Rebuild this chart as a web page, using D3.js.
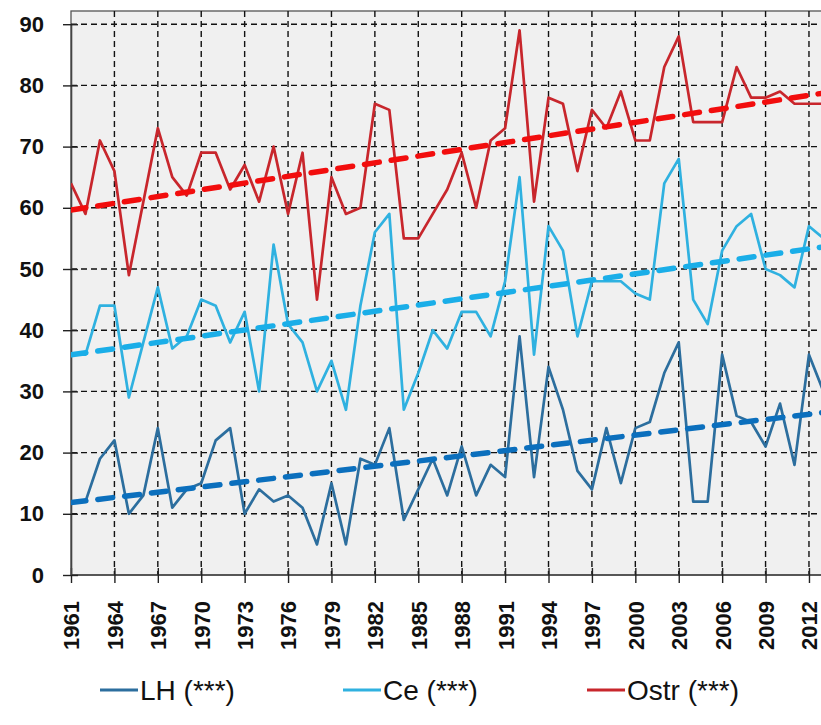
<!DOCTYPE html>
<html>
<head>
<meta charset="utf-8">
<script src="https://cdn.jsdelivr.net/npm/d3@7"></script>
<style>
  body { margin: 0; background: #fff; }
  .axis text { font-family: "Liberation Sans", Arial, sans-serif; font-weight: bold; font-size: 22px; fill: #111; }
  .legend text { font-family: "Liberation Sans", Arial, sans-serif; font-size: 28px; fill: #111; }
</style>
</head>
<body>
<div class="linechart"></div>
<script>
// data
const years = d3.range(1961, 2014);
const lh = [12, 12, 19, 22, 10, 13, 24, 11, 14, 15,
  22, 24, 10, 14, 12, 13, 11, 5, 15, 5,
  19, 18, 24, 9, 14, 19, 13, 21, 13, 18,
  16, 39, 16, 34, 27, 17, 14, 24, 15, 24,
  25, 33, 38, 12, 12, 36, 26, 25, 21, 28,
  18, 36, 30];
const ce = [36, 36, 44, 44, 29, 38, 47, 37, 39, 45,
  44, 38, 43, 30, 54, 41, 38, 30, 35, 27,
  44, 56, 59, 27, 33, 40, 37, 43, 43, 39,
  48, 65, 36, 57, 53, 39, 48, 48, 48, 46,
  45, 64, 68, 45, 41, 53, 57, 59, 50, 49,
  47, 57, 55];
const ostr = [64, 59, 71, 66, 49, 61, 73, 65, 62, 69,
  69, 63, 67, 61, 70, 59, 69, 45, 65, 59,
  60, 77, 76, 55, 55, 59, 63, 69, 60, 71,
  73, 89, 61, 78, 77, 66, 76, 73, 79, 71,
  71, 83, 88, 74, 74, 74, 83, 78, 78, 79,
  77, 77, 77];
const yTicks = [0, 10, 20, 30, 40, 50, 60, 70, 80, 90];
const xTicks = d3.range(1961, 2013, 3);
const seriesNames = ["LH (***)", "Ce (***)", "Ostr (***)"];

const series = [
  {name: seriesNames[0], values: lh, color: "#2c6e9e", trend: "#0b6fbd"},
  {name: seriesNames[1], values: ce, color: "#2fb1e0", trend: "#1aaee8"},
  {name: seriesNames[2], values: ostr, color: "#c8262c", trend: "#f20d0d"}
];

const W = 821, H = 725;
const plotLeft = 71, plotTop = 11, plotBottom = 575;

const x = d3.scaleLinear().domain([1961, 2013]).range([plotLeft, plotLeft + 52 * 14.47]);
const y = d3.scaleLinear().domain([0, 90]).range([plotBottom, 24.2]);

const svg = d3.select(".linechart").append("svg")
  .attr("width", W)
  .attr("height", H);

// plot area
svg.append("rect")
  .attr("x", plotLeft).attr("y", plotTop)
  .attr("width", W - plotLeft + 5).attr("height", plotBottom - plotTop)
  .attr("fill", "#f0f0f0")
  .attr("stroke", "#555").attr("stroke-width", 1.3);

// grid
svg.append("g")
  .selectAll("line")
  .data(yTicks.slice(1))
  .join("line")
    .attr("x1", plotLeft).attr("x2", W)
    .attr("y1", d => y(d)).attr("y2", d => y(d))
    .attr("stroke", "#111").attr("stroke-width", 1.4)
    .attr("stroke-dasharray", "6,4");

svg.append("g")
  .selectAll("line")
  .data(xTicks.slice(1))
  .join("line")
    .attr("x1", d => x(d)).attr("x2", d => x(d))
    .attr("y1", plotTop).attr("y2", plotBottom)
    .attr("stroke", "#111").attr("stroke-width", 1.4)
    .attr("stroke-dasharray", "6,4");

// axes
const xAxis = d3.axisBottom(x)
  .tickValues(xTicks)
  .tickFormat(d3.format("d"))
  .tickSizeInner(8).tickSizeOuter(0);

const gx = svg.append("g")
  .attr("class", "x axis")
  .attr("transform", "translate(0," + plotBottom + ")")
  .call(xAxis);
gx.select(".domain").attr("stroke", "#444").attr("stroke-width", 1.6).attr("d", "M" + plotLeft + ",0H" + (W + 5));
gx.selectAll(".tick line").attr("y1", -7).attr("y2", 8).attr("stroke", "#222").attr("stroke-width", 1.4);
gx.selectAll(".tick text")
  .attr("transform", "rotate(-90)")
  .attr("text-anchor", "end")
  .attr("x", -26).attr("y", 0)
  .attr("dy", "0.36em");

const yAxis = d3.axisLeft(y)
  .tickValues(yTicks)
  .tickSizeInner(8).tickSizeOuter(0);

const gy = svg.append("g")
  .attr("class", "y axis")
  .attr("transform", "translate(" + plotLeft + ",0)")
  .call(yAxis);
gy.select(".domain").attr("stroke", "#444").attr("stroke-width", 1.6);
gy.selectAll(".tick line").attr("x1", -8).attr("x2", 7).attr("stroke", "#222").attr("stroke-width", 1.4);
gy.selectAll(".tick text").attr("x", -27);

// lines + trends
const line = d3.line()
  .x((d, i) => x(years[i]))
  .y(d => y(d));

svg.append("clipPath").attr("id", "plot")
  .append("rect").attr("x", plotLeft).attr("y", plotTop).attr("width", W - plotLeft).attr("height", plotBottom - plotTop);

const plot = svg.append("g").attr("clip-path", "url(#plot)");

// least squares trend, like the spreadsheet's linear trendline
function fit(vals) {
  const mx = d3.mean(years), my = d3.mean(vals);
  const sxy = d3.sum(years, (t, i) => (t - mx) * (vals[i] - my));
  const sxx = d3.sum(years, t => (t - mx) * (t - mx));
  const b = sxy / sxx;
  return t => my + b * (t - mx);
}

series.forEach(s => {
  plot.append("path")
    .datum(s.values)
    .attr("fill", "none")
    .attr("stroke", s.color)
    .attr("stroke-width", 2.7)
    .attr("stroke-linejoin", "round")
    .attr("d", line);
});

series.forEach(s => {
  const f = fit(s.values);
  plot.append("line")
    .attr("x1", x(1961)).attr("y1", y(f(1961)))
    .attr("x2", x(2013)).attr("y2", y(f(2013)))
    .attr("stroke", s.trend)
    .attr("stroke-width", 5.5)
    .attr("stroke-linecap", "round")
    .attr("stroke-dasharray", "15,12");
});

// legend
const legendX = [100, 343, 587];
const legend = svg.append("g").attr("class", "legend");
series.forEach((s, i) => {
  const g = legend.append("g").attr("transform", "translate(" + legendX[i] + ",690)");
  g.append("line").attr("x1", 0).attr("x2", 38).attr("y1", 0).attr("y2", 0)
    .attr("stroke", s.color).attr("stroke-width", 3);
  g.append("text").attr("x", 40).attr("dy", "0.36em").text(s.name);
});
</script>
</body>
</html>
